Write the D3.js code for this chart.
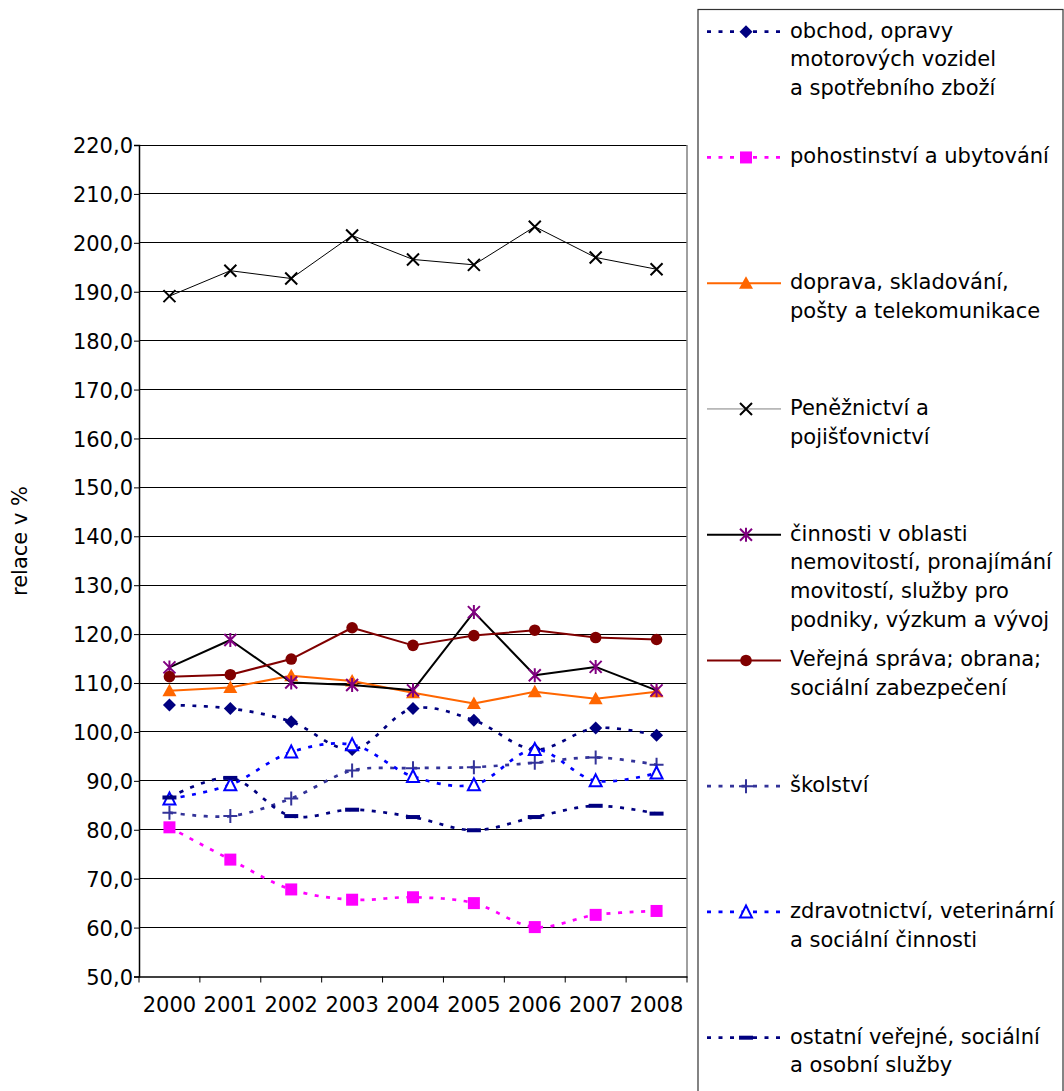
<!DOCTYPE html>
<html><head><meta charset="utf-8">
<script src="https://cdn.jsdelivr.net/npm/d3@7"></script>
<style>
html,body{margin:0;padding:0;background:#fff;}
svg{display:block;font-family:"DejaVu Sans",Verdana,sans-serif;}
</style></head>
<body><svg id="c" width="1064" height="1091"></svg>
<script>
const years = ["2000","2001","2002","2003","2004","2005","2006","2007","2008"];
const yTicks = [50,60,70,80,90,100,110,120,130,140,150,160,170,180,190,200,210,220];

const obchod      = [105.5, 104.8, 102.1, 96.4, 104.8, 102.4, 96.4, 100.8, 99.3];
const pohostinstvi= [80.5, 73.9, 67.8, 65.7, 66.2, 65.0, 60.1, 62.6, 63.4];
const doprava     = [108.4, 109.1, 111.5, 110.4, 108.0, 105.8, 108.2, 106.8, 108.2];
const peneznictvi = [189.1, 194.3, 192.7, 201.5, 196.6, 195.5, 203.3, 197.0, 194.6];
const cinnosti    = [113.2, 118.8, 110.1, 109.6, 108.5, 124.5, 111.6, 113.3, 108.5];
const verejna     = [111.3, 111.7, 114.9, 121.3, 117.7, 119.7, 120.8, 119.3, 118.9];
const skolstvi    = [83.5, 82.8, 86.4, 92.1, 92.6, 92.8, 93.7, 94.8, 93.3];
const zdravotnictvi=[86.3, 89.2, 95.9, 97.4, 90.9, 89.2, 96.4, 90.0, 91.6];
const ostatni     = [86.6, 90.6, 82.8, 84.1, 82.6, 79.9, 82.6, 84.9, 83.3];

const names = [
  ["obchod, opravy","motorových vozidel","a spotřebního zboží"],
  ["pohostinství a ubytování"],
  ["doprava, skladování,","pošty a telekomunikace"],
  ["Peněžnictví a","pojišťovnictví"],
  ["činnosti v oblasti","nemovitostí, pronajímání","movitostí, služby pro","podniky, výzkum a vývoj"],
  ["Veřejná správa; obrana;","sociální zabezpečení"],
  ["školství"],
  ["zdravotnictví, veterinární","a sociální činnosti"],
  ["ostatní veřejné, sociální","a osobní služby"]
];
const yTitle = "relace v %";

const DASH = "4,7.5";
const series = [
  {v: obchod, line:"#000080", lw:2.7, dash:DASH, smooth:true, m:"diamond", mc:"#000080"},
  {v: pohostinstvi, line:"#FF00FF", lw:2.7, dash:DASH, smooth:true, m:"square", mc:"#FF00FF"},
  {v: doprava, line:"#FF6600", lw:2, dash:null, smooth:false, m:"triangle", mc:"#FF6600"},
  {v: peneznictvi, line:"#000000", lw:1, dash:null, smooth:false, m:"x", mc:"#000000", legLine:"#808080"},
  {v: cinnosti, line:"#000000", lw:2, dash:null, smooth:false, m:"star", mc:"#800080"},
  {v: verejna, line:"#800000", lw:2, dash:null, smooth:false, m:"circle", mc:"#800000"},
  {v: skolstvi, line:"#333399", lw:2.7, dash:DASH, smooth:true, m:"plus", mc:"#333399"},
  {v: zdravotnictvi, line:"#0000FF", lw:2.7, dash:DASH, smooth:true, m:"otriangle", mc:"#0000FF"},
  {v: ostatni, line:"#000080", lw:2.7, dash:DASH, smooth:true, m:"dash", mc:"#000080"}
];

const svg = d3.select("#c");
const L = 139, R = 687, T = 145, B = 976.5;
const x = d3.scaleBand().domain(years).range([L, R]);
const y = d3.scaleLinear().domain([50, 220]).range([B, T]);
const cx = d => x(d) + x.bandwidth()/2;

// gridlines
svg.append("g").selectAll("line").data(yTicks.filter(t => t > 50)).join("line")
  .attr("x1", L).attr("x2", R).attr("y1", d => y(d)).attr("y2", d => y(d))
  .attr("stroke", "#000").attr("stroke-width", 1).attr("shape-rendering","crispEdges");
// right border
svg.append("line").attr("x1", R).attr("x2", R).attr("y1", T).attr("y2", B)
  .attr("stroke", "#808080").attr("stroke-width", 1.5);

// axes
const yAxis = d3.axisLeft(y).tickValues(yTicks).tickSize(5).tickFormat(d => d3.format(".1f")(d).replace(".", ","));
const gy = svg.append("g").attr("transform", `translate(${L},0)`).call(yAxis);
gy.select(".domain").attr("stroke", "#000").attr("stroke-width", 1.5);
gy.selectAll(".tick line").attr("stroke", "#000");
gy.selectAll(".tick text").attr("font-size", 21).attr("fill", "#000").attr("font-family","DejaVu Sans").attr("x", -6).attr("dy", "0.36em");

const xAxis = d3.axisBottom(x).tickSize(0);
const gx = svg.append("g").attr("transform", `translate(0,${B})`).call(xAxis);
gx.select(".domain").attr("stroke", "#000").attr("stroke-width", 1.5);
gx.selectAll(".tick text").attr("font-size", 21).attr("fill", "#000").attr("font-family","DejaVu Sans").attr("y", 21).attr("dy","0.71em");
// category boundary ticks
const bounds = years.map(d => x(d)).concat([R]);
gx.append("g").selectAll("line").data(bounds).join("line")
  .attr("x1", d => d).attr("x2", d => d).attr("y1", 0).attr("y2", 6)
  .attr("stroke", "#000").attr("stroke-width", 1);

// y title
svg.append("text").attr("transform", "translate(27,541) rotate(-90)")
  .attr("text-anchor", "middle").attr("font-size", 21).text(yTitle);

// marker drawing
function marker(g, type, color, px, py) {
  const s = 6.5;
  switch (type) {
    case "diamond":
      g.append("path").attr("d", `M${px},${py-s}L${px+s},${py}L${px},${py+s}L${px-s},${py}Z`).attr("fill", color); break;
    case "square":
      g.append("rect").attr("x", px-6).attr("y", py-6).attr("width", 12).attr("height", 12).attr("fill", color); break;
    case "triangle":
      g.append("path").attr("d", `M${px},${py-7}L${px+7},${py+5.5}L${px-7},${py+5.5}Z`).attr("fill", color); break;
    case "otriangle":
      g.append("path").attr("d", `M${px},${py-6.5}L${px+6},${py+5.5}L${px-6},${py+5.5}Z`).attr("fill", "#fff").attr("stroke", color).attr("stroke-width", 2); break;
    case "x":
      g.append("path").attr("d", `M${px-6},${py-6}L${px+6},${py+6}M${px-6},${py+6}L${px+6},${py-6}`).attr("stroke", color).attr("stroke-width", 2); break;
    case "star":
      g.append("path").attr("d", `M${px-6},${py-6}L${px+6},${py+6}M${px-6},${py+6}L${px+6},${py-6}M${px},${py-7}L${px},${py+7}`).attr("stroke", color).attr("stroke-width", 2); break;
    case "plus":
      g.append("path").attr("d", `M${px-7},${py}L${px+7},${py}M${px},${py-7}L${px},${py+7}`).attr("stroke", color).attr("stroke-width", 2); break;
    case "circle":
      g.append("circle").attr("cx", px).attr("cy", py).attr("r", 5.8).attr("fill", color); break;
    case "dash":
      g.append("rect").attr("x", px-7).attr("y", py-2).attr("width", 14).attr("height", 4).attr("fill", color); break;
  }
}

// series
series.forEach(s => {
  const g = svg.append("g");
  const line = d3.line().x((d, i) => cx(years[i])).y(d => y(d))
    .curve(s.smooth ? d3.curveCatmullRom.alpha(0.5) : d3.curveLinear);
  const p = g.append("path").attr("d", line(s.v)).attr("fill", "none")
    .attr("stroke", s.line).attr("stroke-width", s.lw).attr("stroke-linejoin","round");
  if (s.dash) p.attr("stroke-dasharray", s.dash);
  s.v.forEach((v, i) => marker(g, s.m, s.mc, cx(years[i]), y(v)));
});

// legend
const LX = 698, LT = 9.5, LR = 1063;
svg.append("rect").attr("x", LX).attr("y", LT).attr("width", LR - LX).attr("height", 1100)
  .attr("fill", "none").attr("stroke", "#333").attr("stroke-width", 1.2);
series.forEach((s, i) => {
  const cy = 31.7 + i * 125.75;
  const g = svg.append("g");
  const ln = g.append("line").attr("x1", 707).attr("x2", 781).attr("y1", cy).attr("y2", cy)
    .attr("stroke", s.legLine || s.line).attr("stroke-width", s.lw);
  if (s.dash) ln.attr("stroke-dasharray", s.dash);
  marker(g, s.m, s.mc, 746, cy);
  names[i].forEach((t, j) => {
    g.append("text").attr("x", 790).attr("y", cy + 6 + j * 28.7).attr("font-size", 21).attr("fill", "#000").text(t);
  });
});
</script></body></html>
